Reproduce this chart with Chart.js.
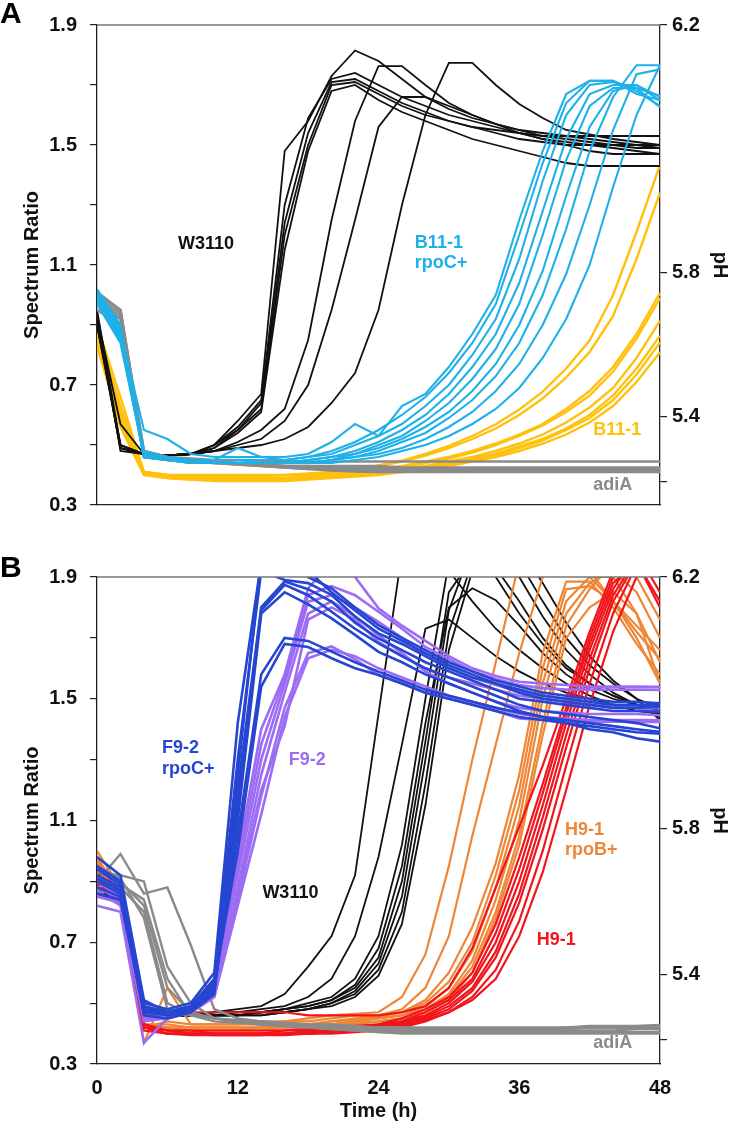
<!DOCTYPE html>
<html>
<head>
<meta charset="utf-8">
<script src="https://cdn.jsdelivr.net/npm/chart.js@4.4.1/dist/chart.umd.min.js"></script>
<style>
  body { margin: 0; background: #fff; }
  .panel { position: absolute; left: 0; }
</style>
</head>
<body>
<canvas id="panelA" class="panel" style="top:0" width="733" height="530"></canvas>
<canvas id="panelB" class="panel" style="top:552px" width="733" height="572"></canvas>
<script>
// time points (h)
const hours = [0,2,4,6,8,10,12,14,16,18,20,22,24,26,28,30,32,34,36,38,40,42,44,46,48];

// left axis ticks (spectrum ratio) and right axis ticks (pH, placed at the matching ratio)
const ratioTicks = [0.3,0.5,0.7,0.9,1.1,1.3,1.5,1.7,1.9];
const ratioTickLabels = ['0.3','','0.7','','1.1','','1.5','','1.9'];
const phTicks = [0.379,0.595,1.074,1.9];
const phTickLabels = ['','5.4','5.8','6.2'];

// ---- panel A ----
const aW3110 = [
  [0.92,0.49,0.47,0.465,0.47,0.50,0.58,0.67,1.48,1.58,1.73,1.815,1.78,1.72,1.66,1.62,1.59,1.57,1.55,1.54,1.53,1.52,1.51,1.50,1.50],
  [0.95,0.50,0.47,0.465,0.47,0.50,0.56,0.65,1.30,1.59,1.72,1.74,1.70,1.66,1.63,1.60,1.58,1.56,1.54,1.52,1.51,1.50,1.50,1.49,1.49],
  [0.93,0.57,0.47,0.465,0.47,0.50,0.55,0.64,1.24,1.54,1.71,1.72,1.68,1.64,1.61,1.58,1.56,1.54,1.52,1.51,1.50,1.50,1.49,1.48,1.47],
  [0.90,0.49,0.47,0.465,0.47,0.49,0.55,0.62,1.20,1.50,1.70,1.71,1.67,1.63,1.60,1.58,1.56,1.55,1.54,1.53,1.53,1.53,1.53,1.53,1.53],
  [0.91,0.50,0.47,0.465,0.47,0.49,0.54,0.61,1.15,1.48,1.68,1.70,1.65,1.61,1.58,1.55,1.52,1.50,1.48,1.46,1.44,1.43,1.43,1.43,1.43],
  [0.94,0.48,0.47,0.465,0.47,0.48,0.51,0.55,0.62,0.85,1.25,1.58,1.763,1.763,1.70,1.64,1.60,1.57,1.55,1.53,1.52,1.51,1.50,1.50,1.49],
  [0.92,0.49,0.47,0.465,0.47,0.48,0.50,0.52,0.58,0.70,0.95,1.25,1.56,1.66,1.66,1.63,1.60,1.57,1.54,1.52,1.50,1.48,1.47,1.47,1.47],
  [0.90,0.50,0.47,0.465,0.47,0.48,0.49,0.50,0.52,0.56,0.64,0.74,0.95,1.30,1.60,1.774,1.774,1.70,1.637,1.59,1.55,1.535,1.52,1.51,1.50]
];
const aB11rpoC = [
  [1.00,0.88,0.55,0.52,0.47,0.46,0.46,0.46,0.46,0.47,0.51,0.57,0.53,0.63,0.67,0.76,0.87,1.00,1.25,1.48,1.67,1.714,1.714,1.68,1.63],
  [0.98,0.85,0.48,0.46,0.45,0.45,0.45,0.45,0.45,0.46,0.48,0.51,0.55,0.60,0.66,0.74,0.84,0.97,1.20,1.44,1.64,1.714,1.714,1.67,1.65],
  [1.02,0.90,0.47,0.46,0.45,0.45,0.49,0.46,0.45,0.46,0.47,0.50,0.53,0.57,0.63,0.70,0.80,0.92,1.12,1.38,1.60,1.70,1.71,1.69,1.664],
  [0.99,0.86,0.47,0.45,0.45,0.45,0.45,0.44,0.44,0.45,0.46,0.48,0.51,0.55,0.60,0.67,0.76,0.87,1.04,1.28,1.52,1.67,1.70,1.70,1.648],
  [0.97,0.84,0.47,0.45,0.45,0.44,0.44,0.44,0.44,0.45,0.46,0.47,0.50,0.53,0.58,0.64,0.72,0.82,0.97,1.20,1.45,1.63,1.69,1.69,1.626],
  [1.00,0.87,0.46,0.45,0.44,0.44,0.44,0.44,0.44,0.44,0.45,0.47,0.49,0.52,0.56,0.61,0.68,0.77,0.90,1.08,1.33,1.56,1.68,1.70,1.66],
  [0.98,0.85,0.46,0.45,0.44,0.44,0.44,0.44,0.44,0.44,0.45,0.46,0.48,0.51,0.54,0.59,0.65,0.73,0.84,1.00,1.22,1.48,1.66,1.766,1.766],
  [1.01,0.89,0.47,0.45,0.44,0.44,0.44,0.44,0.44,0.44,0.45,0.46,0.47,0.49,0.52,0.56,0.61,0.68,0.77,0.90,1.07,1.30,1.55,1.736,1.752],
  [0.99,0.87,0.46,0.45,0.44,0.44,0.44,0.44,0.44,0.44,0.44,0.45,0.46,0.48,0.50,0.53,0.57,0.62,0.69,0.79,0.92,1.10,1.36,1.60,1.766]
];
const aB11 = [
  [0.88,0.62,0.41,0.40,0.40,0.40,0.40,0.40,0.40,0.405,0.41,0.42,0.432,0.448,0.47,0.497,0.53,0.569,0.618,0.678,0.755,0.848,1.00,1.21,1.434],
  [0.85,0.60,0.41,0.40,0.395,0.395,0.395,0.395,0.40,0.40,0.405,0.415,0.43,0.445,0.465,0.49,0.52,0.555,0.60,0.655,0.725,0.81,0.93,1.12,1.341],
  [0.90,0.66,0.41,0.40,0.395,0.39,0.39,0.39,0.39,0.395,0.40,0.41,0.42,0.43,0.445,0.46,0.48,0.505,0.535,0.57,0.62,0.68,0.76,0.87,1.007],
  [0.86,0.58,0.405,0.395,0.39,0.39,0.39,0.39,0.39,0.395,0.40,0.405,0.415,0.425,0.44,0.455,0.475,0.50,0.53,0.565,0.61,0.665,0.745,0.855,0.99],
  [0.84,0.56,0.40,0.39,0.385,0.385,0.385,0.385,0.385,0.39,0.395,0.40,0.41,0.42,0.43,0.445,0.46,0.48,0.505,0.535,0.575,0.625,0.69,0.79,0.914],
  [0.89,0.63,0.41,0.395,0.39,0.385,0.385,0.385,0.385,0.39,0.395,0.40,0.41,0.415,0.425,0.44,0.455,0.47,0.495,0.52,0.555,0.60,0.665,0.755,0.864],
  [0.87,0.61,0.405,0.395,0.39,0.385,0.385,0.385,0.385,0.39,0.395,0.40,0.405,0.41,0.42,0.435,0.45,0.465,0.49,0.515,0.55,0.59,0.65,0.735,0.842],
  [0.83,0.57,0.40,0.39,0.385,0.38,0.38,0.38,0.38,0.385,0.39,0.395,0.40,0.41,0.415,0.43,0.445,0.46,0.48,0.505,0.535,0.575,0.63,0.71,0.809]
];
const aAdiA = [
  [0.99,0.94,0.48,0.46,0.455,0.45,0.45,0.448,0.446,0.445,0.445,0.445,0.445,0.445,0.445,0.445,0.445,0.445,0.445,0.445,0.445,0.445,0.445,0.445,0.445],
  [1.00,0.95,0.47,0.455,0.45,0.445,0.44,0.435,0.43,0.43,0.425,0.425,0.425,0.42,0.42,0.42,0.42,0.42,0.42,0.42,0.42,0.42,0.42,0.42,0.42],
  [0.97,0.92,0.46,0.45,0.445,0.44,0.435,0.43,0.425,0.42,0.42,0.42,0.42,0.418,0.418,0.418,0.418,0.418,0.418,0.418,0.418,0.418,0.418,0.418,0.418],
  [0.95,0.90,0.47,0.455,0.45,0.445,0.44,0.435,0.43,0.425,0.42,0.42,0.415,0.415,0.415,0.415,0.415,0.415,0.415,0.415,0.415,0.415,0.415,0.415,0.415],
  [0.98,0.93,0.46,0.45,0.445,0.44,0.44,0.435,0.43,0.43,0.43,0.43,0.43,0.425,0.425,0.425,0.425,0.425,0.425,0.425,0.425,0.425,0.425,0.425,0.425],
  [1.01,0.95,0.48,0.46,0.45,0.44,0.435,0.43,0.425,0.42,0.415,0.412,0.41,0.41,0.41,0.41,0.41,0.41,0.41,0.41,0.41,0.41,0.41,0.41,0.41]
];

// ---- panel B ----
const bF92rpoC = [
  [0.95,0.90,0.50,0.48,0.50,0.60,1.42,1.95,1.95,1.90,1.863,1.80,1.742,1.70,1.66,1.62,1.59,1.56,1.54,1.52,1.51,1.50,1.49,1.49,1.485],
  [0.92,0.88,0.49,0.47,0.49,0.58,1.30,1.92,1.89,1.88,1.841,1.77,1.715,1.68,1.64,1.60,1.57,1.55,1.52,1.50,1.49,1.48,1.47,1.47,1.474],
  [0.90,0.86,0.48,0.46,0.48,0.56,1.20,1.80,1.885,1.86,1.819,1.75,1.698,1.66,1.62,1.59,1.56,1.53,1.50,1.49,1.48,1.47,1.46,1.46,1.457],
  [0.98,0.92,0.51,0.47,0.48,0.55,1.15,1.79,1.874,1.84,1.786,1.73,1.682,1.64,1.60,1.57,1.54,1.51,1.48,1.46,1.45,1.44,1.43,1.42,1.403],
  [0.88,0.85,0.47,0.46,0.47,0.54,1.10,1.78,1.85,1.81,1.764,1.71,1.654,1.62,1.58,1.55,1.52,1.49,1.46,1.44,1.43,1.42,1.41,1.40,1.391],
  [0.86,0.84,0.48,0.47,0.48,0.55,1.05,1.58,1.70,1.69,1.655,1.62,1.589,1.56,1.53,1.51,1.49,1.47,1.455,1.44,1.42,1.40,1.39,1.37,1.359],
  [0.94,0.89,0.49,0.47,0.49,0.57,1.00,1.54,1.68,1.67,1.633,1.60,1.578,1.55,1.52,1.50,1.48,1.46,1.44,1.43,1.42,1.41,1.40,1.39,1.385],
  [0.91,0.87,0.46,0.45,0.47,0.53,1.25,1.96,1.96,1.92,1.85,1.79,1.73,1.69,1.65,1.61,1.58,1.55,1.53,1.51,1.50,1.49,1.48,1.48,1.48]
];
const bF92 = [
  [0.90,0.85,0.45,0.45,0.47,0.56,0.98,1.40,1.58,1.863,1.95,1.90,1.797,1.74,1.69,1.64,1.60,1.575,1.556,1.55,1.545,1.54,1.54,1.54,1.539],
  [0.85,0.83,0.44,0.45,0.48,0.55,0.95,1.35,1.57,1.841,1.87,1.84,1.786,1.73,1.67,1.63,1.59,1.565,1.545,1.535,1.53,1.53,1.53,1.53,1.529],
  [0.95,0.88,0.47,0.46,0.48,0.54,0.92,1.30,1.55,1.819,1.84,1.80,1.753,1.70,1.64,1.60,1.57,1.545,1.523,1.51,1.50,1.49,1.48,1.47,1.457],
  [0.82,0.80,0.37,0.45,0.47,0.52,0.88,1.25,1.52,1.78,1.82,1.77,1.709,1.65,1.59,1.55,1.52,1.49,1.47,1.46,1.455,1.45,1.45,1.45,1.446],
  [0.88,0.84,0.46,0.46,0.48,0.53,0.84,1.18,1.47,1.65,1.672,1.63,1.578,1.55,1.52,1.50,1.48,1.46,1.435,1.43,1.425,1.425,1.425,1.424,1.424],
  [0.92,0.86,0.45,0.45,0.47,0.52,0.82,1.12,1.44,1.633,1.661,1.64,1.60,1.57,1.54,1.51,1.49,1.47,1.45,1.44,1.435,1.43,1.43,1.43,1.43],
  [0.87,0.82,0.45,0.45,0.47,0.54,0.86,1.20,1.41,1.76,1.80,1.76,1.687,1.64,1.60,1.57,1.55,1.53,1.51,1.50,1.49,1.48,1.48,1.47,1.47]
];
const bW3110 = [
  [0.88,0.85,0.48,0.46,0.46,0.47,0.48,0.49,0.53,0.62,0.72,0.92,1.45,1.98,2.05,1.92,1.82,1.73,1.66,1.60,1.55,1.51,1.48,1.46,1.45],
  [0.90,0.86,0.47,0.46,0.46,0.47,0.47,0.48,0.49,0.52,0.58,0.72,0.98,1.35,1.73,1.76,1.70,1.64,1.59,1.55,1.52,1.50,1.48,1.47,1.46],
  [0.87,0.84,0.48,0.46,0.46,0.46,0.47,0.47,0.48,0.50,0.52,0.58,0.72,1.02,1.50,1.95,2.00,1.90,1.78,1.68,1.60,1.55,1.51,1.48,1.47],
  [0.89,0.85,0.47,0.46,0.46,0.46,0.46,0.47,0.48,0.49,0.51,0.56,0.68,0.95,1.42,1.80,1.863,1.824,1.74,1.65,1.58,1.53,1.50,1.48,1.46],
  [0.86,0.84,0.47,0.46,0.46,0.46,0.46,0.47,0.48,0.49,0.51,0.55,0.65,0.90,1.36,1.85,1.96,1.93,1.82,1.70,1.61,1.55,1.51,1.48,1.45],
  [0.88,0.85,0.48,0.46,0.46,0.46,0.46,0.47,0.47,0.48,0.50,0.54,0.63,0.85,1.30,1.79,2.00,2.00,1.90,1.77,1.66,1.58,1.52,1.48,1.44],
  [0.90,0.86,0.47,0.46,0.46,0.46,0.46,0.46,0.47,0.48,0.50,0.53,0.61,0.80,1.22,1.72,1.95,2.00,1.95,1.82,1.70,1.61,1.55,1.50,1.47],
  [0.87,0.84,0.47,0.46,0.46,0.46,0.46,0.46,0.47,0.48,0.49,0.52,0.59,0.76,1.15,1.66,1.92,2.00,2.00,1.88,1.75,1.64,1.56,1.50,1.43]
];
const bH91rpoB = [
  [0.98,0.86,0.42,0.44,0.43,0.43,0.43,0.44,0.44,0.45,0.46,0.465,0.47,0.52,0.66,0.95,1.30,1.62,1.95,2.05,2.00,1.90,1.82,1.74,1.66],
  [0.95,0.84,0.37,0.55,0.43,0.43,0.43,0.43,0.44,0.44,0.45,0.46,0.46,0.48,0.55,0.72,1.05,1.35,1.65,1.90,2.00,1.92,1.82,1.72,1.63],
  [1.00,0.88,0.43,0.43,0.42,0.42,0.42,0.42,0.43,0.43,0.44,0.45,0.46,0.47,0.51,0.60,0.75,0.96,1.25,1.65,1.885,1.885,1.80,1.68,1.58],
  [0.92,0.84,0.42,0.42,0.42,0.42,0.42,0.42,0.42,0.43,0.44,0.445,0.455,0.47,0.50,0.57,0.70,0.92,1.20,1.60,1.86,1.87,1.82,1.70,1.55],
  [0.96,0.87,0.43,0.42,0.42,0.42,0.42,0.42,0.42,0.43,0.43,0.44,0.45,0.46,0.49,0.55,0.67,0.88,1.15,1.55,1.82,1.90,1.90,1.78,1.62],
  [0.90,0.83,0.42,0.41,0.41,0.41,0.41,0.42,0.42,0.42,0.43,0.44,0.45,0.46,0.48,0.53,0.64,0.84,1.10,1.50,1.78,1.88,1.92,1.85,1.70],
  [0.94,0.85,0.42,0.42,0.41,0.41,0.41,0.41,0.42,0.42,0.43,0.435,0.44,0.45,0.47,0.52,0.62,0.80,1.05,1.42,1.74,1.86,1.95,1.90,1.76],
  [0.97,0.86,0.43,0.42,0.41,0.41,0.41,0.41,0.41,0.42,0.42,0.43,0.44,0.45,0.47,0.51,0.60,0.78,1.02,1.38,1.70,1.80,1.85,1.78,1.55]
];
const bH91 = [
  [0.92,0.88,0.45,0.47,0.47,0.47,0.47,0.47,0.47,0.46,0.46,0.46,0.46,0.47,0.49,0.55,0.68,0.88,1.08,1.28,1.50,1.72,1.92,1.95,1.82],
  [0.90,0.86,0.43,0.41,0.41,0.41,0.41,0.41,0.41,0.415,0.42,0.425,0.43,0.45,0.48,0.52,0.60,0.76,0.98,1.22,1.47,1.70,1.90,1.98,1.85],
  [0.95,0.87,0.43,0.41,0.41,0.40,0.40,0.40,0.41,0.41,0.42,0.42,0.43,0.44,0.47,0.51,0.58,0.73,0.94,1.19,1.45,1.68,1.88,1.95,1.80],
  [0.88,0.84,0.42,0.41,0.40,0.40,0.40,0.40,0.40,0.41,0.41,0.42,0.425,0.44,0.46,0.50,0.57,0.70,0.90,1.15,1.42,1.66,1.86,1.98,1.90],
  [0.93,0.86,0.42,0.41,0.40,0.40,0.40,0.40,0.40,0.405,0.41,0.415,0.42,0.435,0.455,0.49,0.55,0.67,0.86,1.11,1.38,1.63,1.84,1.96,1.95],
  [0.86,0.83,0.42,0.40,0.40,0.40,0.40,0.40,0.40,0.40,0.405,0.41,0.42,0.43,0.45,0.48,0.54,0.65,0.83,1.07,1.34,1.60,1.82,1.95,2.00],
  [0.91,0.85,0.42,0.40,0.40,0.395,0.395,0.395,0.40,0.40,0.405,0.41,0.415,0.425,0.445,0.47,0.52,0.61,0.77,1.00,1.28,1.55,1.78,1.94,2.00],
  [0.89,0.84,0.41,0.40,0.395,0.395,0.395,0.395,0.395,0.40,0.40,0.405,0.41,0.42,0.44,0.47,0.51,0.58,0.72,0.93,1.20,1.48,1.72,1.90,1.98]
];
const bAdiA = [
  [0.90,0.99,0.86,0.88,0.69,0.48,0.45,0.44,0.435,0.43,0.43,0.425,0.42,0.42,0.415,0.415,0.415,0.415,0.415,0.415,0.415,0.42,0.42,0.42,0.425],
  [0.93,0.92,0.90,0.62,0.50,0.45,0.44,0.435,0.43,0.425,0.42,0.415,0.41,0.41,0.41,0.41,0.41,0.41,0.41,0.41,0.41,0.41,0.41,0.415,0.415],
  [0.88,0.90,0.82,0.55,0.47,0.45,0.44,0.43,0.425,0.42,0.415,0.41,0.405,0.405,0.405,0.405,0.405,0.405,0.405,0.405,0.405,0.405,0.405,0.405,0.405],
  [0.86,0.88,0.80,0.50,0.46,0.45,0.44,0.435,0.43,0.425,0.42,0.42,0.415,0.415,0.41,0.41,0.41,0.41,0.415,0.415,0.42,0.42,0.42,0.42,0.42],
  [0.95,0.91,0.78,0.48,0.46,0.45,0.445,0.44,0.435,0.43,0.425,0.42,0.42,0.42,0.42,0.42,0.42,0.42,0.42,0.42,0.42,0.425,0.425,0.425,0.428],
  [0.90,0.89,0.84,0.58,0.46,0.44,0.435,0.43,0.425,0.42,0.415,0.41,0.405,0.40,0.40,0.40,0.40,0.40,0.40,0.40,0.40,0.40,0.40,0.40,0.40]
];

// ---- styling ----
const FONT = '"Liberation Sans", Arial, Helvetica, sans-serif';
const C = {
  black: '#111111', gray: '#8a8a8a', cyan: '#1fb0e8', yellow: '#ffc10e',
  blue: '#2645d0', purple: '#9c6cf5', orange: '#ef8636', red: '#f2141c'
};

function lines(group, color, width) {
  return group.map(vals => ({
    data: vals, borderColor: color, borderWidth: width,
    pointRadius: 0, tension: 0, fill: false
  }));
}

const panelText = {
  id: 'panelText',
  afterDatasetsDraw(chart, args, opts) {
    const { ctx, chartArea: a } = chart;
    const x = chart.scales.x, y = chart.scales.y;
    ctx.save();
    // top frame line
    ctx.strokeStyle = '#777';
    ctx.lineWidth = 1.3;
    ctx.beginPath();
    ctx.moveTo(a.left, a.top);
    ctx.lineTo(a.right, a.top);
    ctx.stroke();
    // strain labels
    ctx.font = 'bold 18px ' + FONT;
    ctx.textAlign = 'left';
    ctx.textBaseline = 'middle';
    opts.notes.forEach(n => {
      ctx.fillStyle = n.color;
      ctx.fillText(n.text, x.getPixelForValue(n.t), y.getPixelForValue(n.v));
    });
    // panel letter
    ctx.font = 'bold 30px ' + FONT;
    ctx.fillStyle = '#000';
    ctx.textBaseline = 'alphabetic';
    ctx.fillText(opts.letter, 0, opts.letterY);
    ctx.restore();
  }
};

function makePanel(id, datasets, showX, letter, letterY, notes) {
  const tickFont = { family: FONT, size: 20, weight: 'bold' };
  return new Chart(document.getElementById(id), {
    type: 'line',
    data: { labels: hours, datasets: datasets },
    options: {
      responsive: false,
      animation: false,
      layout: { padding: { top: 25, left: 0, right: 0, bottom: 0 } },
      plugins: {
        legend: { display: false },
        tooltip: { enabled: false },
        panelText: { letter: letter, letterY: letterY, notes: notes }
      },
      scales: {
        x: {
          type: 'linear', position: 'bottom', min: 0, max: 48,
          ticks: { display: showX, stepSize: 12, padding: 12, color: '#111', font: tickFont },
          grid: { drawOnChartArea: false, drawTicks: false },
          border: { color: '#222', width: 1.3 },
          title: { display: showX, text: 'Time (h)', color: '#111', font: tickFont, padding: { top: 0, bottom: 1 } },
          afterFit: s => { s.height = showX ? 60 : 18; }
        },
        y: {
          position: 'left', min: 0.3, max: 1.9,
          afterBuildTicks: s => { s.ticks = ratioTicks.map(v => ({ value: v })); },
          ticks: { callback: (v, i) => ratioTickLabels[i], padding: 13, color: '#111', font: tickFont, autoSkip: false },
          grid: { drawOnChartArea: false, tickLength: 7, color: '#222', lineWidth: 1.2 },
          border: { color: '#222', width: 1.3 },
          title: { display: true, text: 'Spectrum Ratio', color: '#111', font: tickFont, padding: { top: 20, bottom: 0 } },
          afterFit: s => { s.width = 97; }
        },
        ph: {
          position: 'right', min: 0.3, max: 1.9,
          afterBuildTicks: s => { s.ticks = phTicks.map(v => ({ value: v })); },
          ticks: { callback: (v, i) => phTickLabels[i], padding: 5, color: '#111', font: tickFont, autoSkip: false },
          grid: { drawOnChartArea: false, tickLength: 7, color: '#222', lineWidth: 1.2 },
          border: { color: '#222', width: 1.3 },
          title: { display: true, text: 'pH', color: '#111', font: tickFont, padding: { top: 1, bottom: 0 } },
          afterFit: s => { s.width = 73; }
        }
      }
    },
    plugins: [panelText]
  });
}

// first dataset is drawn on top
makePanel('panelA', [
  ...lines(aB11rpoC, C.cyan, 2.1),
  ...lines(aAdiA, C.gray, 2.6),
  ...lines(aW3110, C.black, 1.8),
  ...lines(aB11, C.yellow, 2.4)
], false, 'A', 23, [
  { text: 'W3110', t: 6.9, v: 1.169, color: C.black },
  { text: 'B11-1', t: 27.1, v: 1.174, color: C.cyan },
  { text: 'rpoC+', t: 27.1, v: 1.105, color: C.cyan },
  { text: 'B11-1', t: 42.3, v: 0.551, color: C.yellow },
  { text: 'adiA', t: 42.3, v: 0.368, color: C.gray }
]);

makePanel('panelB', [
  ...lines(bF92rpoC, C.blue, 2.6),
  ...lines(bF92, C.purple, 2.6),
  ...lines(bAdiA, C.gray, 2.4),
  ...lines(bH91, C.red, 2.2),
  ...lines(bH91rpoB, C.orange, 2.2),
  ...lines(bW3110, C.black, 1.8)
], true, 'B', 25, [
  { text: 'F9-2', t: 5.54, v: 1.338, color: C.blue },
  { text: 'rpoC+', t: 5.54, v: 1.269, color: C.blue },
  { text: 'F9-2', t: 16.34, v: 1.298, color: C.purple },
  { text: 'W3110', t: 14.1, v: 0.861, color: C.black },
  { text: 'H9-1', t: 39.9, v: 1.068, color: C.orange },
  { text: 'rpoB+', t: 39.9, v: 1.003, color: C.orange },
  { text: 'H9-1', t: 37.5, v: 0.707, color: C.red },
  { text: 'adiA', t: 42.3, v: 0.368, color: C.gray }
]);
</script>
</body>
</html>
